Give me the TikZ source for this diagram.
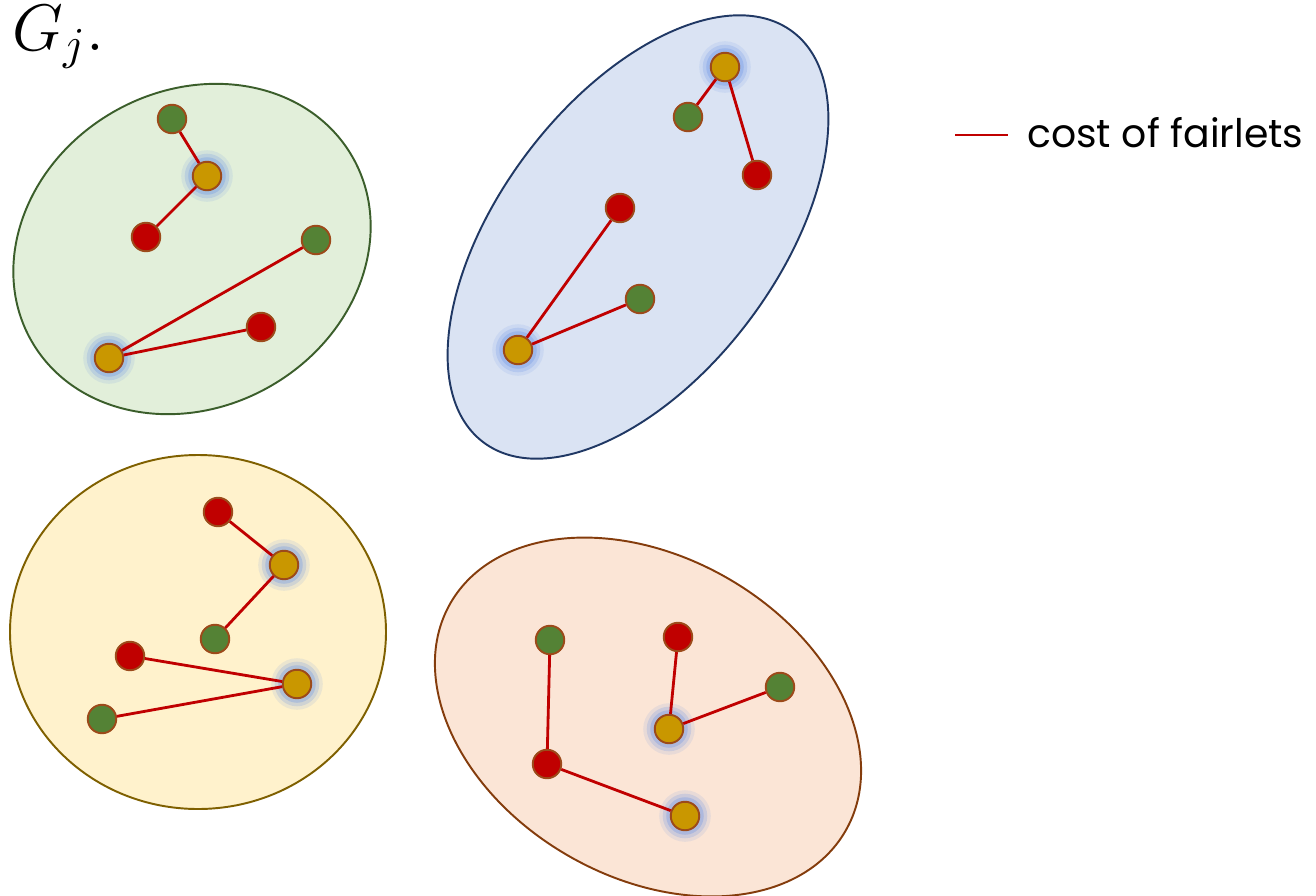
\documentclass[tikz,border=0pt]{standalone}
\usepackage{amsmath}
\usepackage{graphicx}
\usepackage{fontspec}
\newfontfamily\legendfont{Poppins}
\usepackage{tikz}

\definecolor{ptgreen}{HTML}{548235}
\definecolor{ptred}{HTML}{C00000}
\definecolor{ptgold}{HTML}{C99700}
\definecolor{ptrim}{HTML}{9C4A1A}
\definecolor{glowblue}{HTML}{5F8CE6}
\definecolor{linkred}{HTML}{C00000}

\tikzset{
  pt/.style={circle, draw=ptrim, line width=1.1pt, inner sep=0pt, minimum size=0.57cm},
  gpt/.style={pt, fill=ptgreen},
  rpt/.style={pt, fill=ptred},
  ypt/.style={pt, fill=ptgold,
    preaction={draw=glowblue, line width=0.46cm, opacity=0.12},
    preaction={draw=glowblue, line width=0.32cm, opacity=0.2},
    preaction={draw=glowblue, line width=0.18cm, opacity=0.28}},
  fairlet/.style={draw=linkred, line width=1.6pt},
  blob/.style={line width=1.1pt}
}

\begin{document}
\begin{tikzpicture}[x=0.02cm, y=-0.02cm]
    \useasboundingbox (0,0) rectangle (1316,896);

    % the four groups
    \draw[blob, draw={rgb,255:red,59;green,94;blue,43}, fill={rgb,255:red,226;green,239;blue,218}]
        [rotate around={30:(192,249)}] (192,249) ellipse [x radius=185, y radius=158];
    \draw[blob, draw={rgb,255:red,32;green,56;blue,100}, fill={rgb,255:red,218;green,227;blue,243}]
        [rotate around={53:(638,237)}] (638,237) ellipse [x radius=257, y radius=139];
    \draw[blob, draw={rgb,255:red,127;green,96;blue,0}, fill={rgb,255:red,255;green,242;blue,204}]
        (198,632) ellipse [x radius=188, y radius=177];
    \draw[blob, draw={rgb,255:red,132;green,60;blue,12}, fill={rgb,255:red,251;green,229;blue,214}]
        [rotate around={-30:(648,717)}] (648,717) ellipse [x radius=228, y radius=160];

    \node[anchor=base west, inner sep=0pt] (title) at (12,50) {\scalebox{2.6}{\Large\(G_j.\)}};

    % green group
    \node[gpt] (g1) at (172,119) {};
    \node[ypt] (y1) at (207,176) {};
    \node[rpt] (r1) at (146,237) {};
    \node[gpt] (g2) at (316,240) {};
    \node[ypt] (y2) at (109,358) {};
    \node[rpt] (r2) at (261,327) {};
    \draw[fairlet] (g1) -- (y1);
    \draw[fairlet] (y1) -- (r1);
    \draw[fairlet] (y2) -- (g2);
    \draw[fairlet] (y2) -- (r2);

    % blue group
    \node[ypt] (y3) at (725,67) {};
    \node[gpt] (g3) at (688,117) {};
    \node[rpt] (r3) at (757,175) {};
    \node[rpt] (r4) at (620,208) {};
    \node[gpt] (g4) at (640,299) {};
    \node[ypt] (y4) at (518,350) {};
    \draw[fairlet] (y3) -- (g3);
    \draw[fairlet] (y3) -- (r3);
    \draw[fairlet] (y4) -- (r4);
    \draw[fairlet] (y4) -- (g4);

    % yellow group
    \node[rpt] (r5) at (218,512) {};
    \node[ypt] (y5) at (284,565) {};
    \node[gpt] (g5) at (215,639) {};
    \node[rpt] (r6) at (130,656) {};
    \node[ypt] (y6) at (297,684) {};
    \node[gpt] (g6) at (102,719) {};
    \draw[fairlet] (r5) -- (y5);
    \draw[fairlet] (y5) -- (g5);
    \draw[fairlet] (r6) -- (y6);
    \draw[fairlet] (g6) -- (y6);

    % orange group
    \node[gpt] (g7) at (550,640) {};
    \node[rpt] (r7) at (678,637) {};
    \node[gpt] (g8) at (780,687) {};
    \node[ypt] (y7) at (669,729) {};
    \node[rpt] (r8) at (547,764) {};
    \node[ypt] (y8) at (685,816) {};
    \draw[fairlet] (g7) -- (r8);
    \draw[fairlet] (r8) -- (y8);
    \draw[fairlet] (r7) -- (y7);
    \draw[fairlet] (y7) -- (g8);

    % legend
    \coordinate (legA) at (955,135);
    \coordinate (legB) at (1008,135);
    \draw[fairlet] (legA) -- (legB);
    \node[anchor=west, inner sep=0pt, font=\legendfont\fontsize{22.4}{26}\selectfont] (legtext) at (1027,133) {cost of fairlets};
\end{tikzpicture}
\end{document}
